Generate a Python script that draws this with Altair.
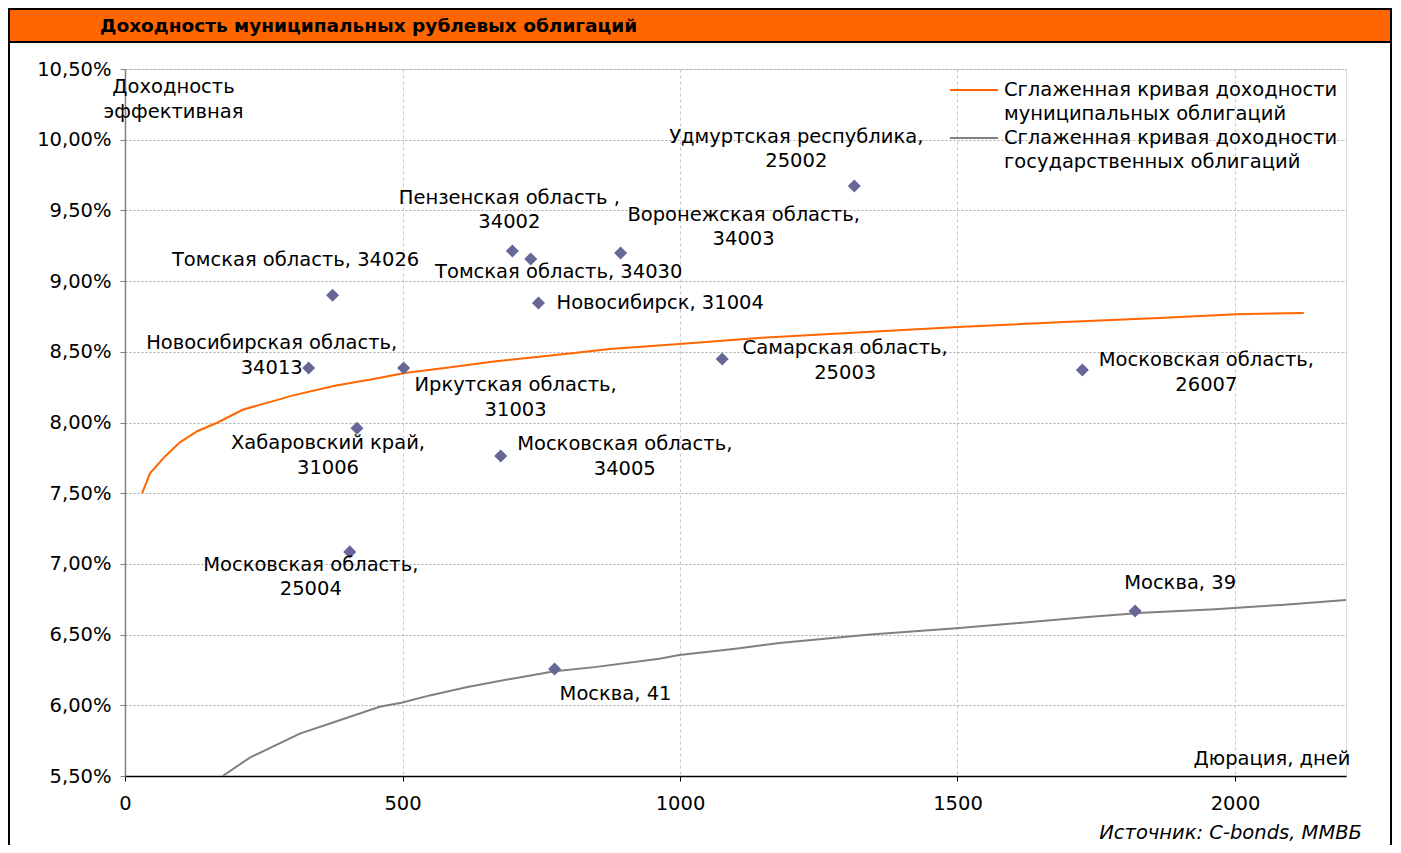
import altair as alt
import pandas as pd

# ---------------- data ----------------
issuer_names = [
    "Томская область, 34026",
    "Новосибирская область,\n34013",
    "Иркутская область,\n31003",
    "Хабаровский край,\n31006",
    "Московская область,\n25004",
    "Пензенская область ,\n34002",
    "Томская область, 34030",
    "Новосибирск, 31004",
    "Воронежская область,\n34003",
    "Московская область,\n34005",
    "Москва, 41",
    "Самарская область,\n25003",
    "Удмуртская республика,\n25002",
    "Московская область,\n26007",
    "Москва, 39",
]
duration_days = [374, 331, 502, 418, 405, 698, 731, 745, 893, 677, 774, 1076, 1314, 1725, 1820]
yield_pct = [8.90, 8.385, 8.385, 7.96, 7.085, 9.213, 9.156, 8.845, 9.199, 7.763, 6.257, 8.449, 9.673, 8.371, 6.667]

muni_curve_days = [31, 45, 72, 99, 131, 167, 212, 247, 275, 301, 378, 450, 504, 576, 661,
                   733, 805, 873, 999, 1147, 1311, 1501, 1692, 1874, 2002, 2124]
muni_curve_yield = [7.50, 7.64, 7.76, 7.86, 7.94, 8.00, 8.09, 8.13, 8.16, 8.19, 8.26, 8.31, 8.35, 8.385, 8.43,
                    8.46, 8.49, 8.52, 8.555, 8.60, 8.635, 8.675, 8.71, 8.74, 8.765, 8.775]

gov_curve_days = [176, 225, 315, 376, 459, 500, 549, 617, 700, 774, 846, 963, 999, 1100, 1179,
                  1343, 1498, 1604, 1735, 1834, 1964, 2083, 2200]
gov_curve_yield = [5.50, 5.63, 5.80, 5.88, 5.99, 6.02, 6.07, 6.13, 6.19, 6.24, 6.27, 6.33, 6.355, 6.40, 6.44,
                   6.50, 6.545, 6.58, 6.625, 6.655, 6.68, 6.71, 6.745]

x_ticks = [0, 500, 1000, 1500, 2000]
y_ticks = [5.5, 6.0, 6.5, 7.0, 7.5, 8.0, 8.5, 9.0, 9.5, 10.0, 10.5]

title_text = "Доходность муниципальных рублевых облигаций"
legend_labels = ["Сглаженная кривая доходности\nмуниципальных облигаций",
                 "Сглаженная кривая доходности\nгосударственных облигаций"]
y_title = ["Доходность", "эффективная"]
x_title = "Дюрация, дней"
source_text = "Источник: C-bonds, ММВБ"

# ---------------- styles ----------------
FONT = "DejaVu Sans"
FS = 19.5
ORANGE = "#ff6600"
GRAY = "#808080"
POINT = "#666699"

W, H = 1221, 707

x_enc = alt.X(
    "days:Q",
    scale=alt.Scale(domain=[0, 2200], nice=False, zero=False),
    axis=alt.Axis(
        values=x_ticks, format="d", labelFontSize=FS, labelColor="black", labelFont=FONT,
        labelFlush=False,
        tickSize=5, tickColor="black", domainColor="black", domainWidth=1.5,
        labelPadding=13, grid=True, gridDash=[3, 3], gridColor="#c8c8c8",
        title=x_title, titleX=1225, titleY=-18, titleAlign="right", titleBaseline="middle",
        titleFontWeight="normal", titleFontSize=FS, titleFont=FONT, titleColor="black",
    ),
)
y_enc = alt.Y(
    "yld:Q",
    scale=alt.Scale(domain=[5.5, 10.5], nice=False, zero=False),
    axis=alt.Axis(
        values=y_ticks, labelExpr="replace(format(datum.value, '.2f'), '.', ',') + '%'",
        labelFontSize=FS, labelColor="black", labelFont=FONT, labelFlush=False,
        tickSize=5, tickColor=GRAY, domainColor=GRAY, domainWidth=1.5,
        labelPadding=9, grid=True, gridDash=[2, 2], gridColor="#a8a8a8",
        title=y_title, titleAngle=0, titleX=48, titleY=17, titleAlign="center",
        titleBaseline="middle", titleLineHeight=25, titleFontWeight="normal",
        titleFontSize=FS, titleFont=FONT, titleColor="black",
    ),
)

points_df = pd.DataFrame({"name": issuer_names, "days": duration_days, "yld": yield_pct})
muni_df = pd.DataFrame({"days": muni_curve_days, "yld": muni_curve_yield})
gov_df = pd.DataFrame({"days": gov_curve_days, "yld": gov_curve_yield})

one = alt.Data(values=[{}])

frame = alt.Chart(one).mark_rect(fill="white", fillOpacity=0, stroke="black", strokeWidth=2).encode(
    x=alt.value(-116), x2=alt.value(1266), y=alt.value(-60), y2=alt.value(800)
)
title_bar = alt.Chart(one).mark_rect(fill=ORANGE, stroke="black", strokeWidth=2).encode(
    x=alt.value(-116), x2=alt.value(1266), y=alt.value(-60), y2=alt.value(-27)
)
title_txt = alt.Chart(one).mark_text(
    text=title_text, align="left", baseline="middle", font=FONT, fontSize=18.5,
    fontWeight="bold", color="black"
).encode(x=alt.value(-25), y=alt.value(-43))

gov_line = alt.Chart(gov_df).mark_line(color=GRAY, strokeWidth=2, clip=True).encode(
    x=x_enc, y=y_enc, order="days:Q")
muni_line = alt.Chart(muni_df).mark_line(color=ORANGE, strokeWidth=2, clip=True).encode(
    x=x_enc, y=y_enc, order="days:Q")
pts = alt.Chart(points_df).mark_point(
    shape="diamond", filled=True, size=170, color=POINT, opacity=1
).encode(x=x_enc, y=y_enc)

# label placement: (align, dx, dy of first line) per issuer, same order as issuer_names
label_place = [
    ("center", -37, -35), ("center", -37, -25), ("center", 112, 17), ("center", -29, 15),
    ("center", -39, 13), ("center", -3, -53), ("center", 28, 13), ("left", 18, 0),
    ("center", 123, -38), ("center", 124, -12), ("center", 61, 25), ("center", 123, -11),
    ("center", -58, -49), ("center", 124, -10), ("center", 45, -28),
]
label_layers = []
for i, (al, dx, dy) in enumerate(label_place):
    label_layers.append(
        alt.Chart(points_df.iloc[[i]]).mark_text(
            align=al, baseline="middle", dx=dx, dy=dy, lineBreak="\n",
            lineHeight=24.5, font=FONT, fontSize=FS, color="black"
        ).encode(x=x_enc, y=y_enc, text="name:N")
    )

# legend (drawn in the upper right corner of the plot)
leg_colors = [ORANGE, GRAY]
leg_y = [21, 69]
legend_layers = []
for lab, col, ly in zip(legend_labels, leg_colors, leg_y):
    legend_layers.append(
        alt.Chart(one).mark_rule(color=col, strokeWidth=2).encode(
            x=alt.value(825), x2=alt.value(873), y=alt.value(ly))
    )
    legend_layers.append(
        alt.Chart(one).mark_text(
            text=lab, align="left", baseline="middle", lineBreak="\n", lineHeight=24,
            font=FONT, fontSize=FS, color="black"
        ).encode(x=alt.value(879), y=alt.value(ly))
    )

source = alt.Chart(one).mark_text(
    text=source_text, align="right", baseline="middle", font=FONT, fontSize=19.5,
    fontStyle="italic", color="black"
).encode(x=alt.value(1237), y=alt.value(764))

chart = alt.layer(
    frame, title_bar, title_txt, gov_line, muni_line, pts, *label_layers, *legend_layers, source
).properties(
    width=W, height=H,
    autosize=alt.AutoSizeParams(type="none"),
    padding={"left": 117, "top": 61, "right": 47, "bottom": 69},
).configure_view(stroke=None).configure(font=FONT)

chart.save("out.html", embed_options={"renderer": "svg", "actions": False})
